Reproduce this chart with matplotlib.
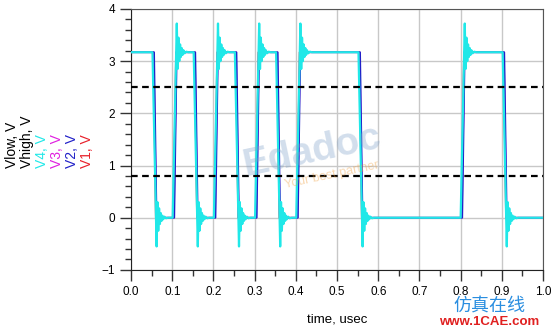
import numpy as np
import matplotlib
matplotlib.use("Agg")
import matplotlib.pyplot as plt
from matplotlib.ticker import MultipleLocator, FormatStrFormatter

plt.rcParams['font.family'] = ['Liberation Sans', 'DejaVu Sans']

# edge start times (usec), signal starts high
edges = [0.052, 0.101, 0.152, 0.201, 0.252, 0.301, 0.352, 0.401, 0.552, 0.800, 0.902]
v_high = 3.17
v_low = 0.0
thr_low = 0.8
thr_high = 2.5

# V4 ringing: offsets after an edge start (usec) and levels (V)
ring_dt = [0.0, 0.010, 0.012, 0.014, 0.016, 0.018, 0.020, 0.022, 0.024, 0.026, 0.029, 0.033, 0.038]
ring_rise = [0.0, 3.72, 2.85, 3.45, 3.0, 3.32, 3.08, 3.25, 3.12, 3.21, 3.15, 3.18, 3.17]
ring_fall = [3.17, -0.55, 0.3, -0.25, 0.18, -0.12, 0.09, -0.06, 0.04, -0.03, 0.02, -0.01, 0.0]

# driver-side traces: offsets of edge and ramp duration (usec)
drv_names = ['V1', 'V3', 'V2']
drv_colors = ['#e8202a', '#e020e0', '#2020c8']
drv_delay = [0.002, 0.003, 0.004]
drv_ramp = [0.006, 0.006, 0.006]


def square(delay, ramp):
    t, v = [0.0], [v_high]
    level = v_high
    for e in edges:
        t.append(e + delay)
        v.append(level)
        level = v_low if level == v_high else v_high
        t.append(e + delay + ramp)
        v.append(level)
    t.append(1.0)
    v.append(level)
    return t, v


def ringing():
    t, v = [0.0], [v_high]
    level = v_high
    for e in edges:
        shape = ring_fall if level == v_high else ring_rise
        t += [e + d for d in ring_dt]
        v += shape
        level = shape[-1]
    t.append(1.0)
    v.append(level)
    return t, v


fig = plt.figure(figsize=(5.53, 3.30), dpi=100)
ax = fig.add_axes([0.237, 0.182, 0.745, 0.791])

for name, c, d, r in zip(drv_names, drv_colors, drv_delay, drv_ramp):
    t, v = square(d, r)
    ax.plot(t, v, color=c, lw=1.2, zorder=3)

t4, v4 = ringing()
ax.plot(t4, v4, color='#20e8e8', lw=1.6, zorder=4)

ax.axhline(thr_high, color='black', ls=(0, (3, 2)), lw=1.6, zorder=5)
ax.axhline(thr_low, color='black', ls=(0, (3, 2)), lw=1.6, zorder=5)

ax.set_xlim(0, 1.0)
ax.set_ylim(-1, 4)
ax.xaxis.set_major_locator(MultipleLocator(0.1))
ax.xaxis.set_minor_locator(MultipleLocator(0.05))
ax.xaxis.set_major_formatter(FormatStrFormatter('%.1f'))
ax.yaxis.set_major_locator(MultipleLocator(1))
ax.yaxis.set_minor_locator(MultipleLocator(0.2))
ax.tick_params(which='major', direction='out', length=8, width=1, labelsize=8.5, color='#333333')
ax.tick_params(which='minor', direction='out', length=4, width=1, color='#333333')
ax.grid(True, which='major', color='#c8c8c8', lw=1)
ax.set_axisbelow(True)
for s in ['top', 'right']:
    ax.spines[s].set_color('#555555')
for s in ['left', 'bottom']:
    ax.spines[s].set_color('#222222')

ax.set_xlabel('time, usec', fontsize=9.5, labelpad=11)

# stacked y labels
ylabels = ['Vlow, V', 'Vhigh, V', 'V4, V', 'V3, V', 'V2, V', 'V1, V']
ycolors = ['black', 'black', '#20e8e8', '#e020e0', '#2020c8', '#e8202a']
for i, (lab, c) in enumerate(zip(ylabels, ycolors)):
    fig.text((12 + 15 * i) / 553, 1 - 168 / 330, lab, rotation=90, color=c,
             fontsize=10, ha='center', va='bottom')

# watermarks
fig.text(0.565, 0.54, 'Edadoc', fontsize=28, fontweight='bold', color='#7fa0c8',
         alpha=0.35, rotation=12, ha='center', va='center')
fig.text(0.60, 0.47, 'Your best partner', fontsize=9, color='#f0a040',
         alpha=0.4, rotation=12, ha='center', va='center')
fig.text(0.885, 0.072, '仿真在线', fontsize=13, color='#2a8ee0',
         family=['Noto Sans CJK SC', 'DejaVu Sans'], ha='center', va='center')
fig.text(0.885, 0.025, 'www.1CAE.com', fontsize=9.5, fontweight='bold',
         color='#e02020', ha='center', va='center')

fig.savefig('out.png', dpi=100)
